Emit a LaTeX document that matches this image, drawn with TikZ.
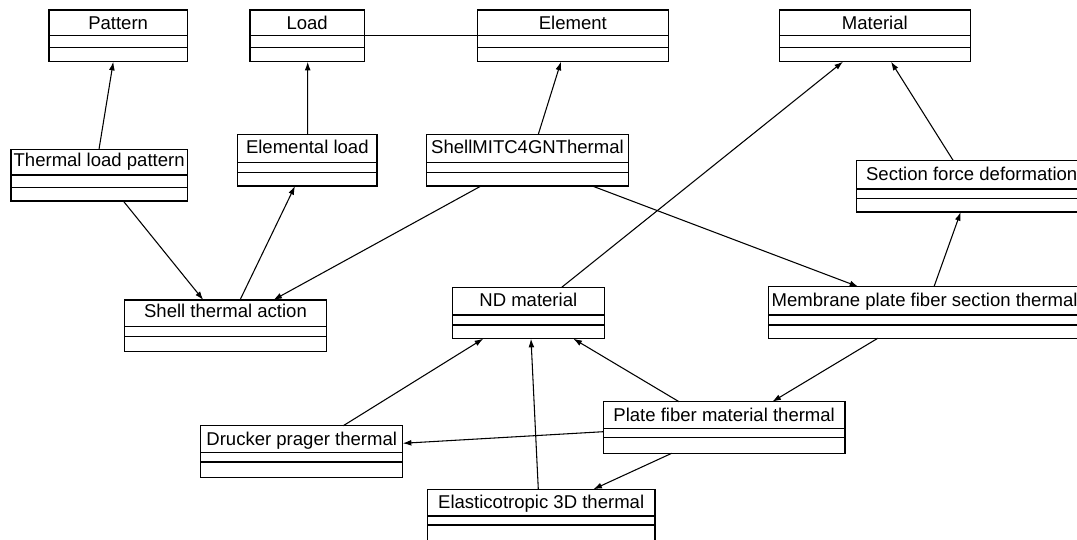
\documentclass[tikz,border=0pt]{standalone}
\usepackage{fontspec}
\setmainfont{Liberation Sans}
\usetikzlibrary{arrows.meta,fit,calc}
\tikzset{
  cls/.style={draw, line width=0.9pt, inner sep=0pt, outer sep=0pt},
  clsline/.style={line width=0.9pt},
  ttl/.style={inner sep=0pt, anchor=base, font=\fontsize{13.9}{16}\selectfont},
  conn/.style={line width=0.8pt, -{Latex[length=6.5pt,width=4.4pt]}},
  plain/.style={line width=0.8pt}
}
% name, x1, x2, y1, y2, y3, y4, text, baseline offset
\newcommand\umlcls[9]{%
  \node[cls, fit={(#2,#4)(#3,#7)}] (#1) {};
  \draw[clsline] (#2,#5) -- (#3,#5) (#2,#6) -- (#3,#6);
  \node[ttl] at ({(#2+#3)/2},{#4+#9}) {#8};
}
\begin{document}
\begin{tikzpicture}[x=0.75pt,y=-0.75pt]
\clip (0,0) rectangle (1077,539);
\fill[white] (0,0) rectangle (1077,539);

\umlcls{pat}{49}{187.3}{10}{35.7}{47.7}{61.7}{Pattern}{19.3}
\umlcls{load}{250}{364.3}{10}{35.7}{47.7}{61.7}{Load}{19.3}
\umlcls{elem}{477.3}{668.3}{10}{35.7}{47.7}{61.7}{Element}{19.3}
\umlcls{mat}{779.3}{970.3}{10}{35.7}{47.7}{61.7}{Material}{19.3}

\umlcls{tlp}{11}{187.3}{149.3}{175}{187.3}{201}{Thermal load pattern}{16.7}
\umlcls{eload}{237.6}{377}{134.3}{162.7}{172.3}{186}{Elemental load}{19}
\umlcls{shell}{426.7}{628.3}{134.3}{162.7}{172.3}{186}{ShellMITC4GNThermal}{19}
\umlcls{sfd}{856.7}{1086.7}{160.7}{189}{198.3}{212}{Section force deformation}{19.3}

\umlcls{sta}{124.3}{326.7}{300}{326.7}{336.7}{351.7}{Shell thermal action}{17.7}
\umlcls{nd}{452.3}{604.3}{287.3}{315}{325}{338.7}{ND material}{18.7}
\umlcls{mem}{768.3}{1081}{286.7}{315}{325}{338.3}{Membrane plate fiber section thermal}{19.3}

\umlcls{pfm}{603.3}{845}{401.7}{428.3}{437.7}{453.3}{Plate fiber material thermal}{20}
\umlcls{dpt}{200.7}{402.7}{425.7}{452.7}{462}{477.3}{Drucker prager thermal}{20}
\umlcls{eth}{427.3}{655}{489.3}{516}{525}{542}{Elasticotropic 3D thermal}{19}

% Load -- Element
\draw[plain] ($(load.north east)+(0,25.7)$) -- ($(elem.north west)+(0,25.7)$);

\draw[conn] ($(tlp.north west)+(88,0)$) -- ($(pat.south west)+(64.3,0)$);
\draw[conn] ($(eload.north west)+(70,0)$) -- ($(load.south west)+(57.7,0)$);
\draw[conn] ($(shell.north west)+(111.6,0)$) -- ($(elem.south west)+(83.7,0)$);
\draw[conn] ($(nd.north west)+(109.4,0)$) -- ($(mat.south west)+(63.7,0)$);
\draw[conn] ($(sfd.north west)+(96.6,0)$) -- ($(mat.south west)+(111.7,0)$);
\draw[conn] ($(mem.north west)+(165.7,0)$) -- ($(sfd.south west)+(104,0)$);
\draw[conn] ($(shell.south west)+(165.6,0)$) -- ($(mem.north west)+(90,0)$);
\draw[conn] ($(shell.south west)+(54.3,0)$) -- ($(sta.north west)+(149,0)$);
\draw[conn] ($(tlp.south west)+(112.3,0)$) -- ($(sta.north west)+(79,0)$);
\draw[conn] ($(sta.north west)+(115.7,0)$) -- ($(eload.south west)+(57.4,0)$);
\draw[conn] ($(dpt.north west)+(142.6,0)$) -- ($(nd.south west)+(31,0)$);
\draw[conn] ($(eth.north west)+(111,0)$) -- ($(nd.south west)+(78.7,0)$);
\draw[conn] ($(pfm.north west)+(75.7,0)$) -- ($(nd.south west)+(121,0)$);
\draw[conn] ($(mem.south west)+(109.4,0)$) -- ($(pfm.north west)+(169,0)$);
\draw[conn] ($(pfm.north west)+(0,30)$) -- ($(dpt.north east)+(0,17.6)$);
\draw[conn] ($(pfm.south west)+(68.4,0)$) -- ($(eth.north west)+(166,0)$);
\end{tikzpicture}
\end{document}
